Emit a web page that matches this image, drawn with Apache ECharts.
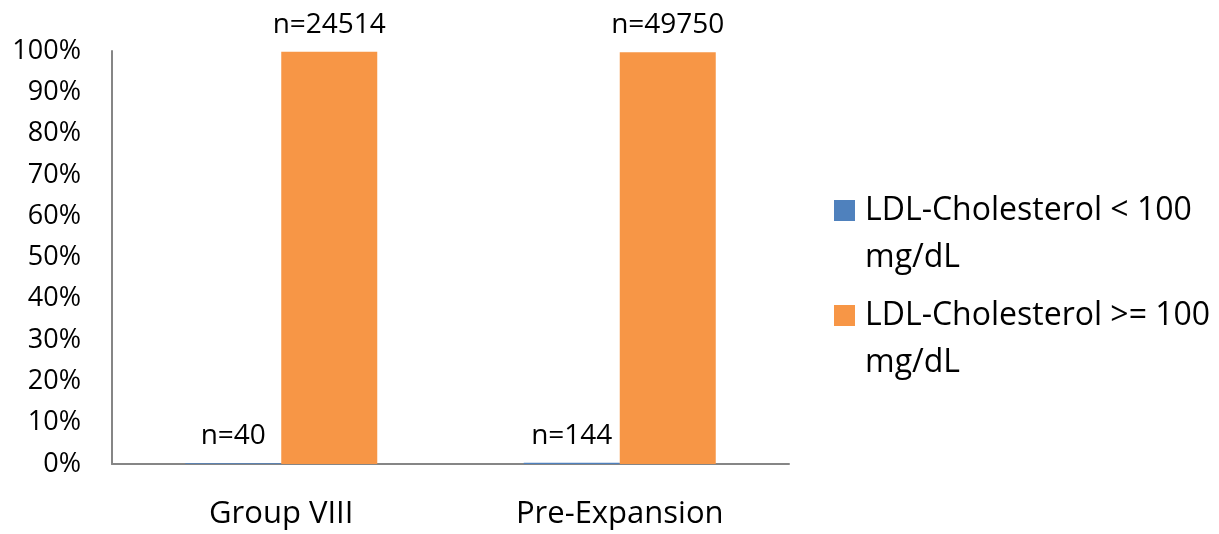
<!DOCTYPE html>
<html>
<head>
<meta charset="utf-8">
<script src="https://cdn.jsdelivr.net/npm/echarts@6/dist/echarts.min.js"></script>
<style>
  html, body { margin: 0; padding: 0; background: #fff; }
  #chart { width: 1219px; height: 534px; }
</style>
</head>
<body>
<div id="chart"></div>
<script>
// Patient counts per group, split by LDL-Cholesterol threshold
const categories = ['Group VIII', 'Pre-Expansion'];
const seriesNames = ['LDL-Cholesterol < 100 mg/dL', 'LDL-Cholesterol >= 100 mg/dL'];
const countsBelow = [40, 144];
const countsAbove = [24514, 49750];
const yTicks = [0, 10, 20, 30, 40, 50, 60, 70, 80, 90, 100];

// Share of each group (percent)
const totals = countsBelow.map((v, i) => v + countsAbove[i]);
const pctBelow = countsBelow.map((v, i) => v / totals[i] * 100);
const pctAbove = countsAbove.map((v, i) => v / totals[i] * 100);

const FONT = '"Open Sans", "DejaVu Sans", sans-serif';
const axisColor = '#868686';
const LEGEND_LINE = 47;

const chart = echarts.init(document.getElementById('chart'), null, { renderer: 'canvas' });

function makeSeries(name, values, counts, color) {
  return {
    name: name,
    type: 'bar',
    data: values,
    barWidth: 96,
    barGap: '0%',
    itemStyle: { color: color },
    label: {
      show: true,
      position: 'top',
      distance: 13,
      fontFamily: FONT,
      fontSize: 28,
      color: '#000',
      formatter: p => 'n=' + counts[p.dataIndex]
    }
  };
}

chart.setOption({
  animation: false,
  backgroundColor: '#fff',
  grid: { left: 112, right: 430, top: 51, bottom: 70, containLabel: false },
  legend: {
    orient: 'vertical',
    left: 829,
    top: 135,
    itemWidth: 21,
    itemHeight: 21,
    itemGap: 105 - 3 * LEGEND_LINE,
    icon: 'rect',
    textStyle: {
      fontFamily: FONT,
      fontSize: 32,
      color: '#000',
      lineHeight: LEGEND_LINE,
      padding: [0, 0, 0, 5]
    },
    // leading blank line keeps the swatch level with the first text line
    formatter: name => '\n' + name.replace(' mg/dL', '\nmg/dL'),
    data: seriesNames
  },
  xAxis: {
    type: 'category',
    data: categories,
    axisLine: { show: true, lineStyle: { color: axisColor, width: 2 } },
    axisTick: { show: false },
    axisLabel: {
      fontFamily: FONT,
      fontSize: 31,
      color: '#000',
      margin: 35
    }
  },
  yAxis: {
    type: 'value',
    min: yTicks[0],
    max: yTicks[yTicks.length - 1],
    interval: yTicks[1] - yTicks[0],
    splitLine: { show: false },
    axisLine: { show: true, lineStyle: { color: axisColor, width: 2 } },
    axisTick: { show: false },
    axisLabel: {
      fontFamily: FONT,
      fontSize: 27,
      color: '#000',
      margin: 31,
      formatter: v => v + '%'
    }
  },
  series: [
    makeSeries(seriesNames[0], pctBelow, countsBelow, '#4F81BD'),
    makeSeries(seriesNames[1], pctAbove, countsAbove, '#F79646')
  ]
});
</script>
</body>
</html>
